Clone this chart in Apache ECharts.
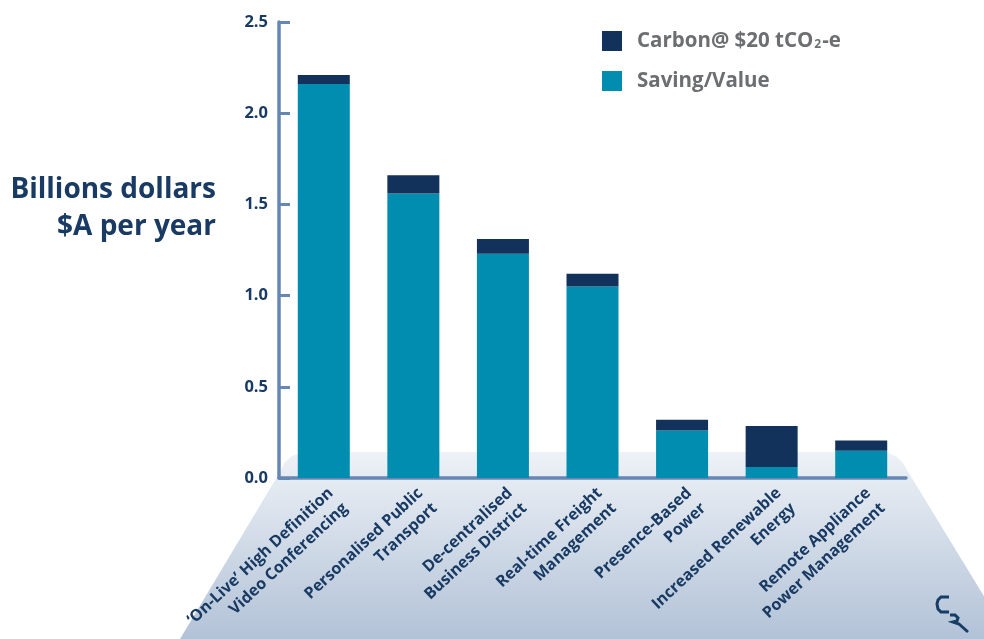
<!DOCTYPE html>
<html>
<head>
<meta charset="utf-8">
<script src="https://cdn.jsdelivr.net/npm/echarts@6/dist/echarts.min.js"></script>
<style>html,body{margin:0;padding:0;background:#fff;}#c{width:984px;height:639px;}</style>
</head>
<body>
<div id="c"></div>
<script>
const categories = [
  "‘On-Live’ High Definition\nVideo Conferencing",
  "Personalised Public\nTransport",
  "De-centralised\nBusiness District",
  "Real-time Freight\nManagement",
  "Presence-Based\nPower",
  "Increased Renewable\nEnergy",
  "Remote Appliance\nPower Management"
];
const savingValue = [2.16, 1.56, 1.23, 1.05, 0.26, 0.06, 0.15];
const carbon = [0.05, 0.10, 0.08, 0.07, 0.06, 0.225, 0.055];
const yTicks = [0, 0.5, 1.0, 1.5, 2.0, 2.5];
const seriesNames = ["Carbon@ $20 tCO2-e", "Saving/Value"];

const NAVY = '#12325c', TEAL = '#008db0', AXIS = '#6687b3', FONT = '"Open Sans", "Noto Sans", sans-serif';
const chart = echarts.init(document.getElementById('c'));
chart.setOption({
  backgroundColor: '#fff',
  animation: false,
  textStyle: { fontFamily: FONT },
  graphic: [
    {
      type: 'polygon', z: -10, silent: true,
      shape: { points: [[180, 639], [280, 472], [285, 462], [292, 456], [300, 453], [310, 452],
                        [878, 452], [889, 453], [897, 457], [903, 463], [907, 470], [1010, 639]] },
      style: { fill: { type: 'linear', x: 0, y: 0, x2: 0, y2: 1, colorStops: [
        { offset: 0, color: '#eef2f7' }, { offset: 1, color: '#b2c2d7' }] } }
    },
    {
      type: 'text', x: 216, y: 172,
      style: { text: 'Billions dollars\n$A per year', fill: '#183a63', font: 'bold 28px ' + FONT, align: 'right', lineHeight: 37 }
    },
    {
      type: 'polyline', z: 10, silent: true,
      shape: { points: [[949, 597], [941, 597], [938, 600], [937, 604], [938, 609], [941, 612], [949, 612]] },
      style: { fill: null, stroke: '#173d66', lineWidth: 3 }
    },
    {
      type: 'polyline', z: 10, silent: true,
      shape: { points: [[950, 615], [955, 615], [958, 618], [957, 621], [953, 622], [959, 624], [968, 632]] },
      style: { fill: null, stroke: '#173d66', lineWidth: 3 }
    }
  ],
  legend: {
    orient: 'vertical', left: 602, top: 29, padding: 0, itemWidth: 20, itemHeight: 20, itemGap: 19,
    icon: 'rect',
    data: seriesNames,
    formatter: function (n) { return n === seriesNames[0] ? 'Carbon@ $20 tCO{sub|2}-e' : n; },
    textStyle: {
      color: '#6d6e71', fontSize: 20.5, lineHeight: 20, fontWeight: 'bold', fontFamily: FONT, padding: [0, 0, 0, 10],
      rich: { sub: { fontSize: 12, fontWeight: 'bold', color: '#6d6e71', verticalAlign: 'bottom', lineHeight: 20, padding: [10, 1, 0, 1], fontFamily: FONT } }
    }
  },
  grid: { left: 279, right: 78, top: 22, bottom: 161, containLabel: false, outerBoundsMode: 'none' },
  xAxis: {
    type: 'category', data: categories,
    axisLine: { lineStyle: { color: AXIS, width: 3.5 } },
    axisTick: { inside: true, length: 9, lineStyle: { color: AXIS, width: 2.5 } },
    axisLabel: { rotate: 43, interval: 0, margin: 5, verticalAlign: 'top', color: '#183a63', fontSize: 16, fontWeight: 'bold', lineHeight: 21, fontFamily: FONT }
  },
  yAxis: {
    type: 'value', min: yTicks[0], max: yTicks[yTicks.length - 1], interval: 0.5,
    splitLine: { show: false },
    axisLine: { show: true, lineStyle: { color: AXIS, width: 3.5 } },
    axisTick: { show: true, inside: true, length: 11, lineStyle: { color: AXIS, width: 3 } },
    axisLabel: { margin: 11, color: '#183a63', fontSize: 16.5, fontWeight: 'bold', fontFamily: FONT, formatter: v => v.toFixed(1) }
  },
  series: [
    { name: seriesNames[1], type: 'bar', stack: 'a', data: savingValue, barWidth: 52, itemStyle: { color: TEAL } },
    { name: seriesNames[0], type: 'bar', stack: 'a', data: carbon, barWidth: 52, itemStyle: { color: NAVY } }
  ]
});
</script>
</body>
</html>
